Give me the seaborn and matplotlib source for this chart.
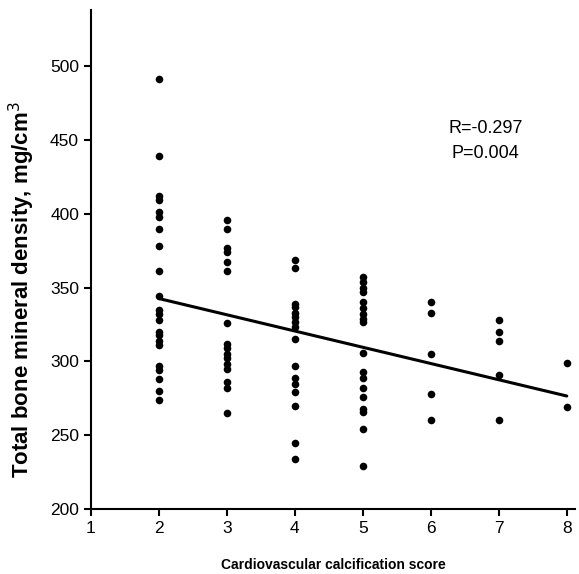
import matplotlib
matplotlib.use('Agg')
import matplotlib.pyplot as plt
import numpy as np
import pandas as pd
import seaborn as sns

sns.set_theme(style='ticks')
plt.rcParams['font.family'] = ['Liberation Sans', 'DejaVu Sans']

# values, one list per calcification score
score_2 = [491, 439, 412, 409, 401, 398, 390, 378, 361, 344, 335, 332, 328,
           320, 318, 314, 311, 297, 294, 288, 280, 274]
score_3 = [396, 390, 377, 374, 367, 361, 326, 312, 309, 305, 302, 298, 295,
           286, 282, 265]
score_4 = [369, 363, 339, 337, 333, 330, 327, 323, 315, 297, 289, 285, 279,
           270, 245, 234]
score_5 = [357, 354, 350, 347, 340, 336, 332, 329, 327, 306, 293, 289, 282,
           276, 268, 266, 254, 229]
score_6 = [340, 333, 305, 278, 260]
score_7 = [328, 320, 314, 291, 260]
score_8 = [299, 269]

groups = {2: score_2, 3: score_3, 4: score_4, 5: score_5,
          6: score_6, 7: score_7, 8: score_8}
stats_text = 'R=-0.297\nP=0.004'

rows = {'score': [], 'bmd': []}
for s, vals in groups.items():
    for v in vals:
        rows['score'].append(s)
        rows['bmd'].append(v)
df = pd.DataFrame(rows)

fig = plt.figure(figsize=(5.79, 5.74), dpi=100)
ax = fig.add_axes([0.157, 0.1132, 0.836, 0.8694])

sns.regplot(x='score', y='bmd', data=df, ci=None, ax=ax, color='black',
            scatter_kws={'s': 30, 'linewidths': 0, 'alpha': 1},
            line_kws={'linewidth': 2.2})

ax.set_xlim(1, 8.12)
ax.set_ylim(200, 538)
ax.set_xticks(range(1, 9))
ax.set_yticks(range(200, 501, 50))
ax.tick_params(axis='both', labelsize=12.5, length=5, width=1.5,
               color='black', labelcolor='black', direction='out')
for side in ['top', 'right']:
    ax.spines[side].set_visible(False)
for side in ['left', 'bottom']:
    ax.spines[side].set_linewidth(1.5)
    ax.spines[side].set_color('black')

ax.set_xlabel('Cardiovascular calcification score', fontsize=10,
              fontweight='bold', color='black', labelpad=16)
ax.set_ylabel('Total bone mineral density, mg/cm$^3$', fontsize=16,
              fontweight='bold', color='black')
ax.yaxis.set_label_coords(-0.112, 0.44)
ax.text(6.8, 449, stats_text, fontsize=13, ha='center', va='center',
        linespacing=1.6, color='black')

plt.savefig('out.png', dpi=100)
